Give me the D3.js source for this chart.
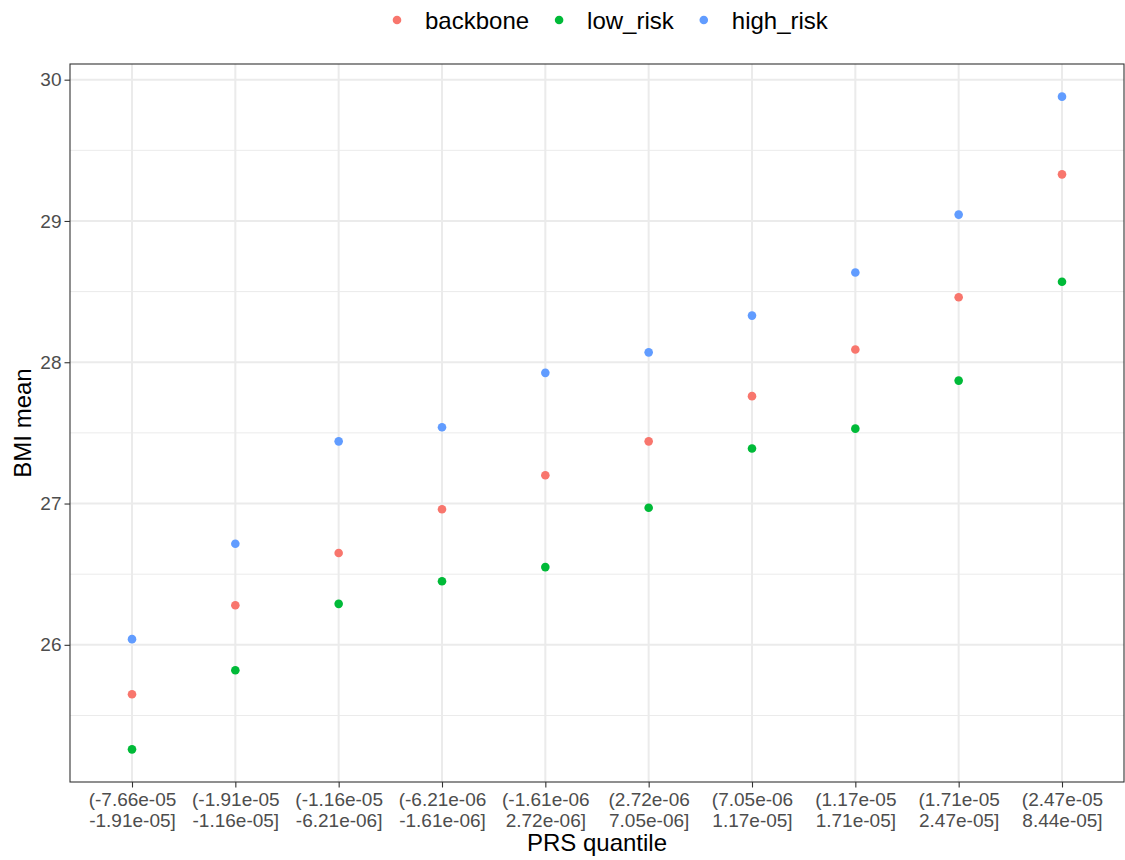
<!DOCTYPE html>
<html>
<head>
<meta charset="utf-8">
<script src="https://cdn.jsdelivr.net/npm/d3@7"></script>
<style>
  body { margin: 0; background: #fff; }
  text { font-family: "Liberation Sans", Arial, sans-serif; }
</style>
</head>
<body>
<div id="master"></div>
<script>
// PRS quantile bins (two-line labels)
const quantiles = [
  ["(-7.66e-05", "-1.91e-05]"],
  ["(-1.91e-05", "-1.16e-05]"],
  ["(-1.16e-05", "-6.21e-06]"],
  ["(-6.21e-06", "-1.61e-06]"],
  ["(-1.61e-06", "2.72e-06]"],
  ["(2.72e-06", "7.05e-06]"],
  ["(7.05e-06", "1.17e-05]"],
  ["(1.17e-05", "1.71e-05]"],
  ["(1.71e-05", "2.47e-05]"],
  ["(2.47e-05", "8.44e-05]"]
]
const backbone  = [25.65, 26.28, 26.65, 26.96, 27.20, 27.44, 27.76, 28.09, 28.46, 29.33]
const low_risk  = [25.26, 25.82, 26.29, 26.45, 26.55, 26.97, 27.39, 27.53, 27.87, 28.57]
const high_risk = [26.04, 26.715, 27.44, 27.54, 27.925, 28.07, 28.33, 28.635, 29.045, 29.88]
const yTicks = [26, 27, 28, 29, 30]
const yMinor = [25.5, 26.5, 27.5, 28.5, 29.5]

const seriesNames = ["backbone", "low_risk", "high_risk"]
const seriesVals = [backbone, low_risk, high_risk]
const colors = ["#F8766D", "#00BA38", "#619CFF"]

let w = 1125, h = 860
let pLeft = 70, pRight = 1124, pTop = 64, pBottom = 782

let svg = d3.select("#master").append("svg").attr("width", w).attr("height", h)

let keys = quantiles.map(q => q.join(" "))
let xScale = d3.scalePoint().domain(keys).range([pLeft, pRight]).padding(0.6)

let all = seriesVals.flat()
let lo = d3.min(all), hi = d3.max(all), pad = (hi - lo) * 0.05
let yScale = d3.scaleLinear().domain([lo - pad, hi + pad]).range([pBottom, pTop])

// grid
let grid = svg.append("g")
grid.selectAll(".minor").data(yMinor).enter().append("line")
  .attr("x1", pLeft).attr("x2", pRight)
  .attr("y1", d => yScale(d)).attr("y2", d => yScale(d))
  .attr("stroke", "#ebebeb").attr("stroke-width", 1)
grid.selectAll(".major").data(yTicks).enter().append("line")
  .attr("x1", pLeft).attr("x2", pRight)
  .attr("y1", d => yScale(d)).attr("y2", d => yScale(d))
  .attr("stroke", "#ebebeb").attr("stroke-width", 2)
grid.selectAll(".vmajor").data(keys).enter().append("line")
  .attr("x1", d => xScale(d)).attr("x2", d => xScale(d))
  .attr("y1", pTop).attr("y2", pBottom)
  .attr("stroke", "#ebebeb").attr("stroke-width", 2)

// points
seriesVals.forEach((vals, s) => {
  svg.append("g").selectAll("circle").data(vals).enter().append("circle")
    .attr("cx", (d, i) => xScale(keys[i]))
    .attr("cy", d => yScale(d))
    .attr("r", 4.3)
    .attr("fill", colors[s])
})

// panel border
svg.append("rect").attr("x", pLeft).attr("y", pTop)
  .attr("width", pRight - pLeft).attr("height", pBottom - pTop)
  .attr("fill", "none").attr("stroke", "#333333").attr("stroke-width", 1.1)

// y axis
let yAxis = d3.axisLeft(yScale).tickValues(yTicks).tickFormat(d3.format("d")).tickSize(5.5).tickPadding(3)
let yg = svg.append("g").attr("transform", "translate(" + pLeft + ",0)").call(yAxis)
yg.select(".domain").remove()
yg.selectAll(".tick line").attr("stroke", "#333333").attr("stroke-width", 1.1)
yg.selectAll(".tick text").attr("fill", "#4d4d4d").style("font-size", "19px")
  .style("font-family", "Liberation Sans, Arial, sans-serif")

// x axis
let xAxis = d3.axisBottom(xScale).tickSize(5.5).tickFormat("")
let xg = svg.append("g").attr("transform", "translate(0," + pBottom + ")").call(xAxis)
xg.select(".domain").remove()
xg.selectAll(".tick line").attr("stroke", "#333333").attr("stroke-width", 1.1)
xg.selectAll(".tick").each(function(d, i) {
  let t = d3.select(this).append("text")
    .attr("fill", "#4d4d4d").attr("text-anchor", "middle")
    .style("font-size", "19px")
  t.append("tspan").attr("x", 0).attr("y", 24).text(quantiles[i][0])
  t.append("tspan").attr("x", 0).attr("y", 45).text(quantiles[i][1])
})

// axis titles
svg.append("text").attr("x", (pLeft + pRight) / 2).attr("y", 851)
  .attr("text-anchor", "middle").style("font-size", "24px").attr("fill", "#000")
  .text("PRS quantile")
svg.append("text").attr("transform", "translate(31," + (pTop + pBottom) / 2 + ") rotate(-90)")
  .attr("text-anchor", "middle").style("font-size", "24px").attr("fill", "#000")
  .text("BMI mean")

// legend
let legend = svg.append("g").attr("transform", "translate(397,20)")
let lx = 0
seriesNames.forEach((name, i) => {
  legend.append("circle").attr("cx", lx).attr("cy", 0).attr("r", 4.3).attr("fill", colors[i])
  let t = legend.append("text").attr("x", lx + 28).attr("y", 8.5)
    .style("font-size", "24px").attr("fill", "#000").text(name)
  lx += 28 + t.node().getComputedTextLength() + 30
})
</script>
</body>
</html>
